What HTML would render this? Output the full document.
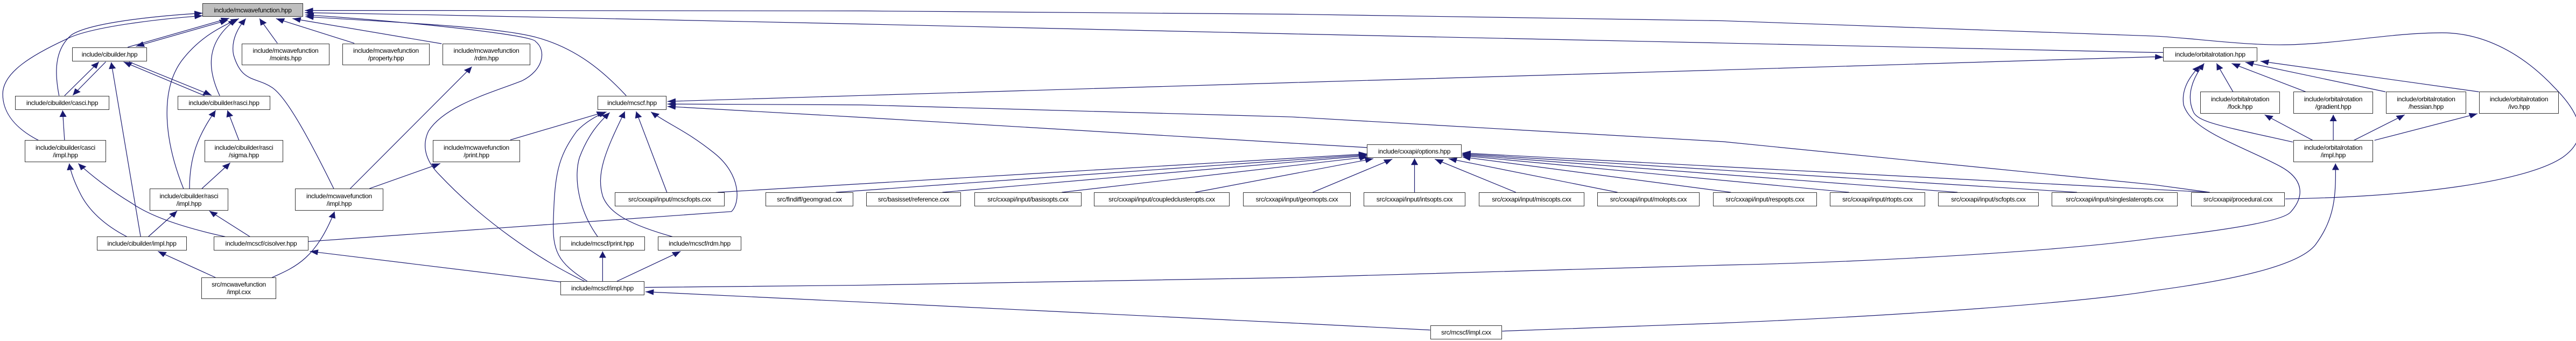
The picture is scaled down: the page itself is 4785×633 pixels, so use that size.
<!DOCTYPE html>
<html><head><meta charset="utf-8">
<style>
html,body{margin:0;padding:0;background:#fff;}
#c{position:relative;width:4785px;height:633px;overflow:hidden;background:#fff;}
svg{position:absolute;left:0;top:0;}
.n{position:absolute;box-sizing:border-box;border:1.3px solid #333;background:#fff;font-family:"Liberation Sans",sans-serif;font-size:12px;line-height:14px;color:#000;text-align:center;display:flex;flex-direction:column;justify-content:center;white-space:nowrap;letter-spacing:-0.25px;}
.g{background:#bfbfbf;}
</style></head><body><div id="c">
<svg width="4785" height="633" viewBox="0 0 4785 633">
<defs>
<marker id="a" markerUnits="userSpaceOnUse" markerWidth="32" markerHeight="26" refX="30" refY="13" orient="auto-start-reverse"><path d="M0,0 L30,13 L0,26 z" fill="#191970"/></marker>
</defs>
<g transform="scale(0.5102,0.4057)" fill="none" stroke="#191970">
<g stroke-width="1.2" vector-effect="non-scaling-stroke" marker-end="url(#a)">
<path vector-effect="non-scaling-stroke" d="M465 216 L835 83"/>
<path vector-effect="non-scaling-stroke" marker-start="url(#a)" d="M830 92 L495 212"/>
<path vector-effect="non-scaling-stroke" d="M215 438 C200 340,195 230,260 160 C330 100,600 70,738 60"/>
<path vector-effect="non-scaling-stroke" d="M140 642 C60 590,10 520,10 430 C10 330,120 250,240 180 C330 120,600 85,738 72"/>
<path vector-effect="non-scaling-stroke" d="M235 438 L360 283"/>
<path vector-effect="non-scaling-stroke" d="M385 283 L265 436"/>
<path vector-effect="non-scaling-stroke" d="M512 1083 L405 285"/>
<path vector-effect="non-scaling-stroke" d="M745 438 L450 283"/>
<path vector-effect="non-scaling-stroke" d="M470 283 L770 436"/>
<path vector-effect="non-scaling-stroke" d="M800 438 C760 330,740 200,860 88"/>
<path vector-effect="non-scaling-stroke" d="M668 863 C600 650,580 420,660 280 C720 180,790 130,870 85"/>
<path vector-effect="non-scaling-stroke" d="M1215 863 C1120 620,1040 440,990 400 C930 350,880 380,850 250 C840 180,870 120,895 85"/>
<path vector-effect="non-scaling-stroke" d="M1010 198 L945 85"/>
<path vector-effect="non-scaling-stroke" d="M1290 198 L1005 85"/>
<path vector-effect="non-scaling-stroke" d="M1608 200 L1065 85"/>
<path vector-effect="non-scaling-stroke" d="M235 642 L228 505"/>
<path vector-effect="non-scaling-stroke" d="M462 1083 C380 1030,320 960,290 880 C270 830,258 790,252 748"/>
<path vector-effect="non-scaling-stroke" d="M820 1083 C700 1050,560 1000,480 930 C400 870,330 800,285 748"/>
<path vector-effect="non-scaling-stroke" d="M690 863 C690 720,720 620,785 505"/>
<path vector-effect="non-scaling-stroke" d="M870 642 L828 505"/>
<path vector-effect="non-scaling-stroke" d="M735 863 L838 745"/>
<path vector-effect="non-scaling-stroke" d="M540 1083 L645 965"/>
<path vector-effect="non-scaling-stroke" d="M910 1083 L762 965"/>
<path vector-effect="non-scaling-stroke" d="M785 1270 L575 1150"/>
<path vector-effect="non-scaling-stroke" d="M990 1270 C1080 1220,1150 1180,1218 968"/>
<path vector-effect="non-scaling-stroke" d="M2041 1290 L1128 1150"/>
<path vector-effect="non-scaling-stroke" d="M1123 1105 L2663 968 C2695 930,2700 800,2600 700 C2500 600,2450 580,2370 512"/>
<path vector-effect="non-scaling-stroke" d="M1345 863 L1603 748"/>
<path vector-effect="non-scaling-stroke" d="M1275 863 L1718 305"/>
<path vector-effect="non-scaling-stroke" d="M2128 1287 C1950 1180,1750 1000,1600 800 C1560 750,1530 680,1560 600 C1620 480,1800 420,1900 370 C1980 320,1990 230,1950 190 C1940 160,1500 100,1112 68"/>
<path vector-effect="non-scaling-stroke" d="M2280 438 C2200 330,2100 220,1950 170 C1800 120,1400 100,1112 76"/>
<path vector-effect="non-scaling-stroke" d="M1858 640 L2203 512"/>
<path vector-effect="non-scaling-stroke" d="M2176 1083 C2100 950,2090 800,2110 720 C2140 620,2180 560,2220 515"/>
<path vector-effect="non-scaling-stroke" d="M2138 1287 C2030 1200,2010 1150,2015 1000 C2020 800,2030 720,2100 600 C2130 560,2170 530,2208 512"/>
<path vector-effect="non-scaling-stroke" d="M2448 1083 C2300 1030,2220 980,2195 900 C2170 800,2200 700,2275 510"/>
<path vector-effect="non-scaling-stroke" d="M2428 880 L2316 510"/>
<path vector-effect="non-scaling-stroke" d="M2194 1287 L2194 1150"/>
<path vector-effect="non-scaling-stroke" d="M2246 1287 L2478 1150"/>
<path vector-effect="non-scaling-stroke" marker-start="url(#a)" d="M2430 464 L3136 437 L4704 378 L6272 320 L7840 260 L7876 262"/>
<path vector-effect="non-scaling-stroke" d="M7876 240 L7840 240 L6272 197 L4704 155 L3136 110 L1568 68 L1110 58"/>
<path vector-effect="non-scaling-stroke" d="M8320 910 C8800 900,9200 830,9330 720 C9420 640,9410 540,9300 400 C9150 200,9000 150,8890 150 C8700 150,8500 205,8300 205 C8150 205,7950 170,7840 165 L6272 95 L4704 65 L3136 50 L1568 48 L1110 48"/>
<path vector-effect="non-scaling-stroke" d="M8045 880 L7840 845 L6272 648 L4704 535 L3136 480 L2430 476"/>
<path vector-effect="non-scaling-stroke" d="M4977 675 L4704 655 L3136 537 L2430 487"/>
<path vector-effect="non-scaling-stroke" d="M2613 880 L4977 704"/>
<path vector-effect="non-scaling-stroke" d="M3043 880 L4977 708"/>
<path vector-effect="non-scaling-stroke" d="M3431 880 L4977 712"/>
<path vector-effect="non-scaling-stroke" d="M3866 880 L4980 718"/>
<path vector-effect="non-scaling-stroke" d="M4351 880 L5000 726"/>
<path vector-effect="non-scaling-stroke" d="M4779 880 L5069 728"/>
<path vector-effect="non-scaling-stroke" d="M5150 880 L5150 725"/>
<path vector-effect="non-scaling-stroke" d="M5519 880 L5224 728"/>
<path vector-effect="non-scaling-stroke" d="M5889 880 L5274 726"/>
<path vector-effect="non-scaling-stroke" d="M6302 880 L5324 718"/>
<path vector-effect="non-scaling-stroke" d="M6732 880 L5324 712"/>
<path vector-effect="non-scaling-stroke" d="M7127 880 L5324 708"/>
<path vector-effect="non-scaling-stroke" d="M7562 880 L5324 704"/>
<path vector-effect="non-scaling-stroke" d="M8045 880 L5324 700"/>
<path vector-effect="non-scaling-stroke" d="M2348 1315 L3136 1305 L4704 1270 L6272 1213 C6800 1200,7500 1150,7840 1090 C8200 1040,8320 1000,8340 970 C8390 900,8390 820,8300 760 C8150 660,7980 600,7950 480 C7940 400,7980 340,8010 300"/>
<path vector-effect="non-scaling-stroke" d="M5207 1510 L4704 1478 L3136 1382 L2350 1335"/>
<path vector-effect="non-scaling-stroke" d="M5469 1515 L6272 1478 C7000 1440,7600 1380,7840 1330 C8200 1270,8380 1200,8430 1120 C8500 1000,8505 900,8503 748"/>
<path vector-effect="non-scaling-stroke" d="M8130 420 L8070 290"/>
<path vector-effect="non-scaling-stroke" d="M8395 420 L8125 290"/>
<path vector-effect="non-scaling-stroke" d="M8685 420 L8175 285"/>
<path vector-effect="non-scaling-stroke" d="M9025 420 L8230 280"/>
<path vector-effect="non-scaling-stroke" d="M8420 642 L8245 525"/>
<path vector-effect="non-scaling-stroke" d="M8495 642 L8495 525"/>
<path vector-effect="non-scaling-stroke" d="M8570 642 L8755 525"/>
<path vector-effect="non-scaling-stroke" d="M8645 642 L9020 520"/>
<path vector-effect="non-scaling-stroke" d="M8348 650 C8100 580,8000 560,7985 510 C7960 440,7980 360,8025 290"/>
</g></g>
</svg>
<div class="n g" style="left:376px;top:6px;width:187px;height:25px">include/mcwavefunction.hpp</div>
<div class="n" style="left:134px;top:88px;width:139px;height:26px">include/cibuilder.hpp</div>
<div class="n" style="left:28px;top:178px;width:175px;height:26px">include/cibuilder/casci.hpp</div>
<div class="n" style="left:330px;top:178px;width:172px;height:26px">include/cibuilder/rasci.hpp</div>
<div class="n" style="left:46px;top:260px;width:151px;height:41px"><span>include/cibuilder/casci</span><span>/impl.hpp</span></div>
<div class="n" style="left:380px;top:260px;width:146px;height:41px"><span>include/cibuilder/rasci</span><span>/sigma.hpp</span></div>
<div class="n" style="left:278px;top:350px;width:146px;height:41px"><span>include/cibuilder/rasci</span><span>/impl.hpp</span></div>
<div class="n" style="left:180px;top:439px;width:167px;height:26px">include/cibuilder/impl.hpp</div>
<div class="n" style="left:397px;top:439px;width:176px;height:26px">include/mcscf/cisolver.hpp</div>
<div class="n" style="left:374px;top:515px;width:139px;height:40px"><span>src/mcwavefunction</span><span>/impl.cxx</span></div>
<div class="n" style="left:449px;top:81px;width:163px;height:40px"><span>include/mcwavefunction</span><span>/moints.hpp</span></div>
<div class="n" style="left:636px;top:81px;width:162px;height:40px"><span>include/mcwavefunction</span><span>/property.hpp</span></div>
<div class="n" style="left:548px;top:350px;width:164px;height:41px"><span>include/mcwavefunction</span><span>/impl.hpp</span></div>
<div class="n" style="left:822px;top:81px;width:163px;height:40px"><span>include/mcwavefunction</span><span>/rdm.hpp</span></div>
<div class="n" style="left:1110px;top:178px;width:128px;height:26px">include/mcscf.hpp</div>
<div class="n" style="left:804px;top:260px;width:162px;height:41px"><span>include/mcwavefunction</span><span>/print.hpp</span></div>
<div class="n" style="left:1142px;top:357px;width:204px;height:26px">src/cxxapi/input/mcscfopts.cxx</div>
<div class="n" style="left:1422px;top:357px;width:163px;height:26px">src/findiff/geomgrad.cxx</div>
<div class="n" style="left:1040px;top:439px;width:158px;height:26px">include/mcscf/print.hpp</div>
<div class="n" style="left:1222px;top:439px;width:155px;height:26px">include/mcscf/rdm.hpp</div>
<div class="n" style="left:1041px;top:522px;width:156px;height:26px">include/mcscf/impl.hpp</div>
<div class="n" style="left:1609px;top:357px;width:176px;height:26px">src/basisset/reference.cxx</div>
<div class="n" style="left:1810px;top:357px;width:199px;height:26px">src/cxxapi/input/basisopts.cxx</div>
<div class="n" style="left:2032px;top:357px;width:252px;height:26px">src/cxxapi/input/coupledclusteropts.cxx</div>
<div class="n" style="left:2309px;top:357px;width:200px;height:26px">src/cxxapi/input/geomopts.cxx</div>
<div class="n" style="left:2539px;top:268px;width:176px;height:25px">include/cxxapi/options.hpp</div>
<div class="n" style="left:2533px;top:357px;width:189px;height:26px">src/cxxapi/input/intsopts.cxx</div>
<div class="n" style="left:2747px;top:357px;width:196px;height:26px">src/cxxapi/input/miscopts.cxx</div>
<div class="n" style="left:2967px;top:357px;width:190px;height:26px">src/cxxapi/input/molopts.cxx</div>
<div class="n" style="left:3182px;top:357px;width:193px;height:26px">src/cxxapi/input/respopts.cxx</div>
<div class="n" style="left:3399px;top:357px;width:177px;height:26px">src/cxxapi/input/rtopts.cxx</div>
<div class="n" style="left:3600px;top:357px;width:187px;height:26px">src/cxxapi/input/scfopts.cxx</div>
<div class="n" style="left:3811px;top:357px;width:234px;height:26px">src/cxxapi/input/singleslateropts.cxx</div>
<div class="n" style="left:4070px;top:357px;width:174px;height:26px">src/cxxapi/procedural.cxx</div>
<div class="n" style="left:2657px;top:604px;width:133px;height:26px">src/mcscf/impl.cxx</div>
<div class="n" style="left:4018px;top:88px;width:175px;height:26px">include/orbitalrotation.hpp</div>
<div class="n" style="left:4087px;top:170px;width:148px;height:41px"><span>include/orbitalrotation</span><span>/fock.hpp</span></div>
<div class="n" style="left:4260px;top:170px;width:148px;height:41px"><span>include/orbitalrotation</span><span>/gradient.hpp</span></div>
<div class="n" style="left:4432px;top:170px;width:149px;height:41px"><span>include/orbitalrotation</span><span>/hessian.hpp</span></div>
<div class="n" style="left:4605px;top:170px;width:148px;height:41px"><span>include/orbitalrotation</span><span>/ivo.hpp</span></div>
<div class="n" style="left:4260px;top:260px;width:148px;height:41px"><span>include/orbitalrotation</span><span>/impl.hpp</span></div>
</div></body></html>
